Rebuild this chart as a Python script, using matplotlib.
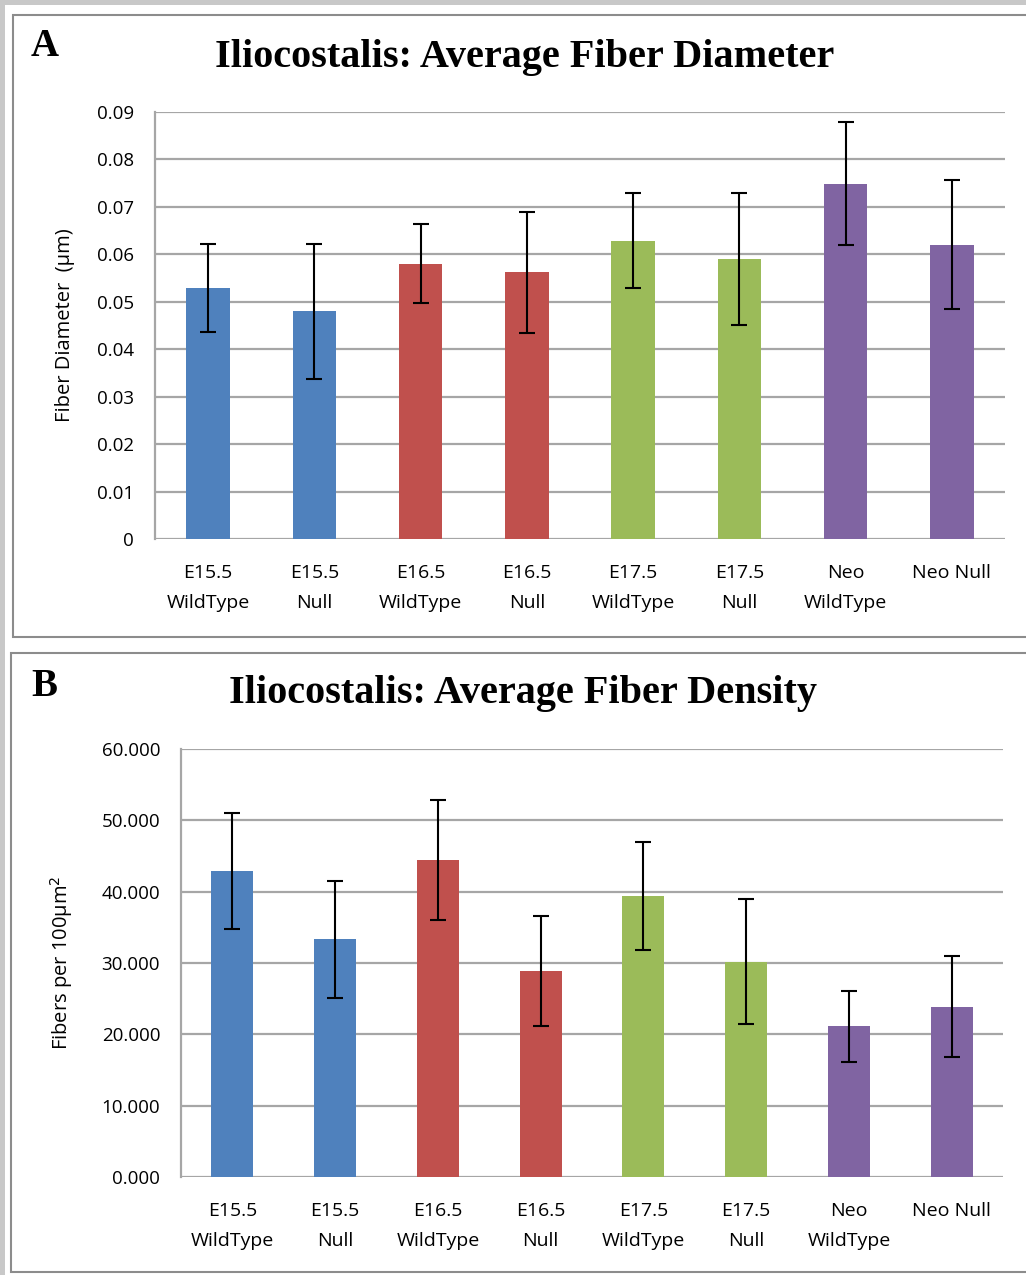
import matplotlib.pyplot as plt
from matplotlib.patches import Rectangle
import numpy as np

# categories and data
groups = ['E15.5\nWildType', 'E15.5\nNull', 'E16.5\nWildType', 'E16.5\nNull',
          'E17.5\nWildType', 'E17.5\nNull', 'Neo\nWildType', 'Neo Null']
bar_colors = ['#4F81BD', '#4F81BD', '#C0504D', '#C0504D',
              '#9BBB59', '#9BBB59', '#8064A2', '#8064A2']

# panel A: fiber diameter
diam_mean = [0.0529, 0.0480, 0.0580, 0.0562, 0.0629, 0.0591, 0.0749, 0.0620]
diam_err = [0.0093, 0.0142, 0.0083, 0.0128, 0.0100, 0.0139, 0.0130, 0.0136]
diam_ticks = [0, 0.01, 0.02, 0.03, 0.04, 0.05, 0.06, 0.07, 0.08, 0.09]

# panel B: fiber density
dens_mean = [42.9, 33.3, 44.4, 28.9, 39.4, 30.2, 21.1, 23.9]
dens_err = [8.1, 8.2, 8.4, 7.7, 7.6, 8.8, 5.0, 7.1]
dens_ticks = [0, 10, 20, 30, 40, 50, 60]

W, H = 1026, 1275
fig = plt.figure(figsize=(W / 100, H / 100), dpi=100)

grid_col = '#a6a6a6'
sans = ['Open Sans', 'DejaVu Sans']
serif = ['Liberation Serif', 'DejaVu Serif']


def fx(px):
    return px / W


def fy(py):
    return 1 - py / H


# outer shadow and panel frames
fig.patches.append(Rectangle((0, 0), 1, 1, transform=fig.transFigure,
                             facecolor='#c8c8c8', edgecolor='none', zorder=-3))
fig.patches.append(Rectangle((fx(5), 0), 1, fy(5), transform=fig.transFigure,
                             facecolor='white', edgecolor='none', zorder=-2))
fig.patches.append(Rectangle((fx(13), fy(637)), 1, fy(15) - fy(637),
                             transform=fig.transFigure, facecolor='white',
                             edgecolor='#8c8c8c', lw=1.5, zorder=-1))
fig.patches.append(Rectangle((fx(11), fy(1272)), 1, fy(653) - fy(1272),
                             transform=fig.transFigure, facecolor='white',
                             edgecolor='#8c8c8c', lw=1.5, zorder=-1))


def draw_panel(rect, means, errs, ticks, fmt, ylabel, title, letter,
               title_xy, letter_xy, ylabel_x):
    ax = fig.add_axes(rect)
    x = np.arange(len(groups))
    ax.bar(x, means, width=0.41, color=bar_colors, zorder=2)
    ax.errorbar(x, means, yerr=errs, fmt='none', ecolor='black',
                elinewidth=1.5, capsize=5.5, capthick=1.5, zorder=3)
    ax.set_xlim(-0.5, len(groups) - 0.5)
    ax.set_ylim(ticks[0], ticks[-1])
    ax.set_yticks(ticks)
    ax.set_yticklabels([fmt.format(t) for t in ticks], family=sans, fontsize=13.5)
    ax.set_xticks(x)
    ax.set_xticklabels(groups, family=sans, fontsize=14, linespacing=1.85)
    ax.yaxis.grid(True, color=grid_col, lw=1.6, zorder=0)
    ax.set_axisbelow(True)
    for s in ['top', 'right', 'bottom']:
        ax.spines[s].set_visible(False)
    ax.spines['left'].set_color(grid_col)
    ax.spines['left'].set_linewidth(1.6)
    ax.tick_params(axis='both', length=0)
    ax.tick_params(axis='y', pad=15)
    ax.tick_params(axis='x', pad=18)
    fig.text(fx(ylabel_x), 0.5 * (rect[1] + rect[1] + rect[3]), ylabel,
             rotation=90, ha='center', va='center', family=sans, fontsize=14.5)
    fig.text(fx(title_xy[0]), fy(title_xy[1]), title, ha='center', va='center',
             family=serif, fontweight='bold', fontsize=29)
    fig.text(fx(letter_xy[0]), fy(letter_xy[1]), letter, ha='center', va='center',
             family=serif, fontweight='bold', fontsize=28)
    return ax


draw_panel([fx(155), fy(539), fx(1005) - fx(155), fy(112) - fy(539)],
           diam_mean, diam_err, diam_ticks, '{:g}', 'Fiber Diameter  (µm)',
           'Iliocostalis: Average Fiber Diameter', 'A',
           (525, 57), (45, 46), 65)
draw_panel([fx(181), fy(1177), fx(1003) - fx(181), fy(749) - fy(1177)],
           dens_mean, dens_err, dens_ticks, '{:.3f}', 'Fibers per 100µm$^2$',
           'Iliocostalis: Average Fiber Density', 'B',
           (523, 693), (44, 686), 62)

fig.savefig('out.png', dpi=100)
